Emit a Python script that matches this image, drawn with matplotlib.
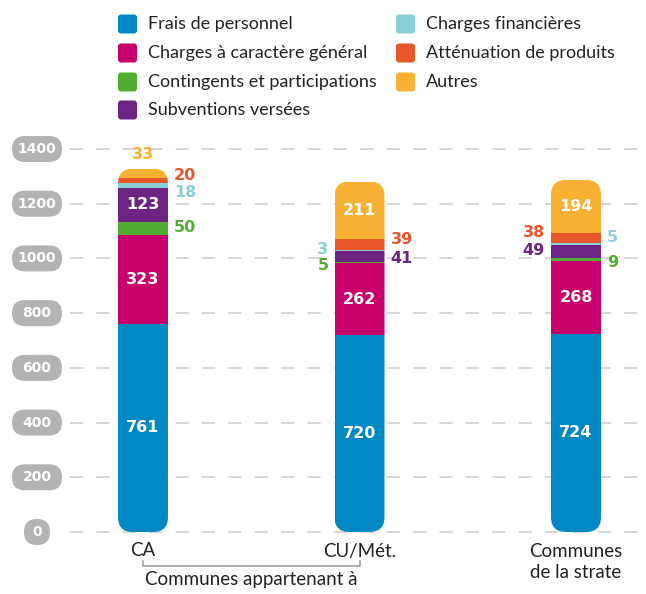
import numpy as np
import matplotlib
matplotlib.use('Agg')
import matplotlib.pyplot as plt
from matplotlib.patches import FancyBboxPatch
from matplotlib.transforms import IdentityTransform, blended_transform_factory

# Params:
W, H = 646, 594
plt.rcParams['lines.scale_dashes'] = False
TEXT_FONT = dict(family=['Lato', 'DejaVu Sans'], weight='normal')
NUM_FONT = dict(family='DejaVu Sans', weight='bold')
TEXT_COLOR = '#222222'

groups = ['CA', 'CU/Mét.', 'Communes\nde la strate']
series = ['Frais de personnel', 'Charges à caractère général',
          'Contingents et participations', 'Subventions versées',
          'Charges financières', 'Atténuation de produits', 'Autres']
colors = ['#0088c4', '#c7006c', '#52ad33', '#6d2381',
          '#8acfd6', '#e85729', '#f8b133']

frais       = [761, 720, 724]
charges_gen = [323, 262, 268]
contingents = [50, 5, 9]
subventions = [123, 41, 49]
charges_fin = [18, 3, 5]
attenuation = [20, 39, 38]
autres      = [33, 211, 194]
values = [frais, charges_gen, contingents, subventions,
          charges_fin, attenuation, autres]

yticks = [0, 200, 400, 600, 800, 1000, 1200, 1400]

# label placement per (series, group): 'in' = white inside, else (side, dy px)
label_pos = [
    ['in', 'in', 'in'],
    ['in', 'in', 'in'],
    [('r', 1), ('l', -3), ('r', -3)],
    ['in', ('r', -2), ('l', 1)],
    [('r', -7), ('l', 1), ('r', 7)],
    [('r', 5), ('r', 5), ('l', 6)],
    [('top', 0), 'in', 'in'],
]

#%% Figure
fig = plt.figure(figsize=(W / 100, H / 100), dpi=100)
ymin, ymax = -30, 1450
px_per_unit = (532 - 149) / 1400
ax_bot = 532 + (0 - ymin) * px_per_unit
ax_top = 149 - (ymax - 1400) * px_per_unit
ax = fig.add_axes([70 / W, 1 - ax_bot / H, 570 / W, (ax_bot - ax_top) / H])

x = np.arange(len(groups))
spacing = (576 - 143) / 2
ax.set_xlim(-(143 - 70) / spacing, (640 - 143) / spacing)
ax.set_ylim(ymin, ymax)
bar_w = 50 / spacing

for s in ax.spines.values():
    s.set_visible(False)
ax.set_xticks([])
ax.set_yticks(yticks)
ax.tick_params(axis='y', length=0, labelleft=False)
ax.yaxis.grid(True, color='#cccccc', lw=1.1, ls=(0, (9.5, 9.5)))
ax.set_axisbelow(True)

# rounded clip for each bar
p0 = ax.transData.transform((0, 0))
px_x = ax.transData.transform((1, 0))[0] - p0[0]
px_y = ax.transData.transform((0, 1))[1] - p0[1]
radius = 15 / px_x
totals = np.sum(values, axis=0)
clips = []
for i in range(len(groups)):
    clip = FancyBboxPatch((x[i] - bar_w / 2, 0), bar_w, totals[i],
                          boxstyle=f'round,pad=0,rounding_size={radius}',
                          mutation_aspect=px_x / px_y, transform=ax.transData)
    clips.append(clip)

bottom = np.zeros(len(groups))
for k, vals in enumerate(values):
    bars = ax.bar(x, vals, bar_w, bottom=bottom, color=colors[k], lw=0, zorder=2)
    for i, rect in enumerate(bars):
        rect.set_clip_path(clips[i])
        v = vals[i]
        yc = bottom[i] + v / 2
        pos = label_pos[k][i]
        if pos == 'in':
            ax.text(x[i], yc, str(v), color='white', fontsize=11.5,
                    ha='center', va='center', zorder=3, **NUM_FONT)
        else:
            side, dy = pos
            if side == 'top':
                ax.annotate(str(v), (x[i], bottom[i] + v), xytext=(0, 14),
                            textcoords='offset pixels', ha='center', va='center',
                            color=colors[k], fontsize=11.5, **NUM_FONT)
            else:
                sgn = 1 if side == 'r' else -1
                ax.annotate(str(v), (x[i] + sgn * bar_w / 2, yc),
                            xytext=(sgn * 6, dy), textcoords='offset pixels',
                            ha='left' if sgn > 0 else 'right', va='center',
                            color=colors[k], fontsize=11.5, **NUM_FONT)
    bottom += vals

#%% Y tick pills
ident = IdentityTransform()
for t in yticks:
    yp = ax.transData.transform((0, t))[1]
    w = 26 if t == 0 else 50
    fig.add_artist(FancyBboxPatch((37 - w / 2, yp - 13), w, 26,
                                  boxstyle='round,pad=0,rounding_size=13',
                                  fc='#b3b3b3', ec='none', transform=ident))
    fig.text(37, yp, str(t), transform=ident, color='white', fontsize=10,
             ha='center', va='center', **NUM_FONT)

#%% Category labels & bracket
xt = blended_transform_factory(ax.transData, ident)
ax.text(x[0], H - 551, groups[0], transform=xt, ha='center', va='center',
        fontsize=13.5, color=TEXT_COLOR, **TEXT_FONT)
ax.text(x[1], H - 551, groups[1], transform=xt, ha='center', va='center',
        fontsize=13.5, color=TEXT_COLOR, **TEXT_FONT)
ax.text(x[2], H - 562, groups[2], transform=xt, ha='center', va='center',
        fontsize=13.5, color=TEXT_COLOR, linespacing=1.25, **TEXT_FONT)
ax.plot([x[0], x[0], x[1], x[1]], [H - 561, H - 566, H - 566, H - 561],
        transform=xt, color='#a0a0a0', lw=1.2, clip_on=False)
ax.text((x[0] + x[1]) / 2, H - 580, 'Communes appartenant à', transform=xt,
        ha='center', va='center', fontsize=13.5, color=TEXT_COLOR, **TEXT_FONT)

#%% Legend
leg_x = [118, 396]
leg_y = [24, 53, 82, 110]
for k, name in enumerate(series):
    col, row = divmod(k, 4)
    lx, ly = leg_x[col], leg_y[row]
    fig.add_artist(FancyBboxPatch((lx, H - ly - 9.5), 19, 19,
                                  boxstyle='round,pad=0,rounding_size=3',
                                  fc=colors[k], ec='none', transform=ident))
    fig.text(lx + 30, H - ly, name, transform=ident, ha='left', va='center',
             fontsize=13, color=TEXT_COLOR, **TEXT_FONT)

fig.savefig('out.png', dpi=100)
